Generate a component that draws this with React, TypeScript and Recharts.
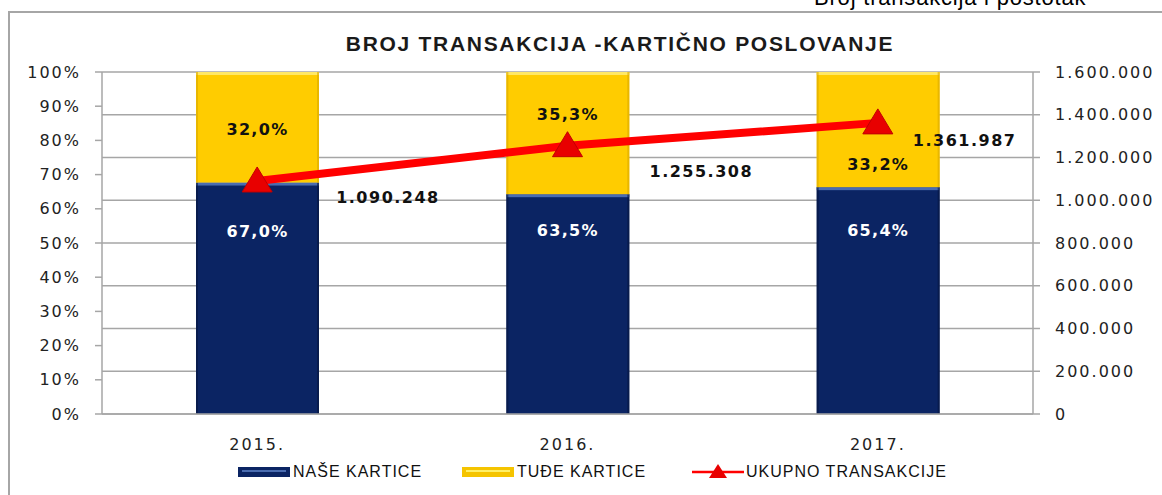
import { ComposedChart, Bar, Line, XAxis, YAxis, CartesianGrid, LabelList } from 'recharts';

const years = ['2015.', '2016.', '2017.'];
const naseKartice = [67.0, 63.5, 65.4];
const tudjeKartice = [32.0, 35.3, 33.2];
const ukupnoTransakcija = [1090248, 1255308, 1361987];
const percentTicks = [0, 0.1, 0.2, 0.3, 0.4, 0.5, 0.6, 0.7, 0.8, 0.9, 1];
const countTicks = [0, 200000, 400000, 600000, 800000, 1000000, 1200000, 1400000, 1600000];

// label nudges (Excel had them placed by hand)
const naseLabelDy = [54, 42, 49];
const tudjeLabelDy = [63, 48, 98];
const ukupnoLabelDx = [79, 82, 35];
const ukupnoLabelDy = [22, 31, 23];

// 100% stacked columns: each column is scaled to its own total, like Excel does
const data = years.map((year, i) => {
  const total = naseKartice[i] + tudjeKartice[i];
  return {
    year,
    nase: naseKartice[i] / total,
    tudje: tudjeKartice[i] / total,
    ukupno: ukupnoTransakcija[i],
  };
});

const NAVY = '#0b2463';
const YELLOW = '#ffcc00';
const RED = '#ff0000';
const GRID = '#a6a6a6';
const axisFont = { fontFamily: 'DejaVu Sans', fontSize: 16, fill: '#222', letterSpacing: 2 };

function fmtPct(v: number) {
  return v.toFixed(1).replace('.', ',') + '%';
}

function fmtThousands(v: number) {
  return String(Math.round(v)).replace(/\B(?=(\d{3})+(?!\d))/g, '.');
}

function BevelBar(props: any) {
  const { x, y, width, height, main, light, dark } = props;
  if (!height || height <= 0) return null;
  return (
    <g>
      <rect x={x} y={y} width={width} height={height} fill={main} />
      <rect x={x} y={y} width={width} height={3} fill={light} />
      <rect x={x} y={y} width={2} height={height} fill={dark} opacity={0.6} />
      <rect x={x + width - 2} y={y} width={2} height={height} fill={dark} opacity={0.6} />
    </g>
  );
}

function Triangle(props: any) {
  const { cx, cy } = props;
  if (cx == null || cy == null) return null;
  return (
    <polygon
      points={`${cx},${cy - 14} ${cx - 15},${cy + 11} ${cx + 15},${cy + 11}`}
      fill="#e80000"
      stroke="#c00000"
      strokeWidth={1}
    />
  );
}

function NaseLabel(props: any) {
  const { x, y, width, index } = props;
  return (
    <text x={x + width / 2} y={y + naseLabelDy[index]} textAnchor="middle" fill="#fff"
      style={{ fontFamily: 'DejaVu Sans', fontSize: 16, fontWeight: 'bold', letterSpacing: 1.3 }}>
      {fmtPct(naseKartice[index])}
    </text>
  );
}

function TudjeLabel(props: any) {
  const { x, y, width, index } = props;
  return (
    <text x={x + width / 2} y={y + tudjeLabelDy[index]} textAnchor="middle" fill="#111"
      style={{ fontFamily: 'DejaVu Sans', fontSize: 16, fontWeight: 'bold', letterSpacing: 1.3 }}>
      {fmtPct(tudjeKartice[index])}
    </text>
  );
}

function UkupnoLabel(props: any) {
  const { x, y, index } = props;
  return (
    <text x={x + ukupnoLabelDx[index]} y={y + ukupnoLabelDy[index]} textAnchor="start" fill="#111"
      style={{ fontFamily: 'DejaVu Sans', fontSize: 16, fontWeight: 'bold', letterSpacing: 1.5 }}>
      {fmtThousands(ukupnoTransakcija[index])}
    </text>
  );
}

function Swatch({ main, light }: { main: string; light: string }) {
  return (
    <span style={{
      display: 'inline-block', width: 52, height: 10, background: main, border: `1px solid ${main}`,
      boxSizing: 'border-box', position: 'relative', marginRight: 3,
    }}>
      <span style={{ position: 'absolute', left: 3, right: 3, top: 2, height: 2, background: light }} />
    </span>
  );
}

const legendText: React.CSSProperties = {
  fontFamily: 'Liberation Sans', fontSize: 16, letterSpacing: 1, color: '#111',
};

export default function App() {
  return (
    <div style={{ position: 'absolute', left: 0, top: 0, width: 1162, height: 495, overflow: 'hidden', background: '#fff' }}>
      <div style={{ position: 'absolute', left: 814, top: -13, fontFamily: 'Liberation Sans', fontSize: 22, letterSpacing: 0.8, lineHeight: '22px', color: '#000', whiteSpace: 'nowrap' }}>
        Broj transakcija i postotak
      </div>
      <div style={{ position: 'absolute', left: 8, top: 11, width: 1160, height: 490, borderTop: `2px solid ${GRID}`, borderLeft: `2px solid ${GRID}` }} />
      <div style={{ position: 'absolute', left: 0, top: 32, width: 1240, textAlign: 'center', fontFamily: 'Liberation Sans', fontWeight: 'bold', fontSize: 21, letterSpacing: 1.7, color: '#1a1a1a', whiteSpace: 'nowrap' }}>
        BROJ TRANSAKCIJA -KARTIČNO POSLOVANJE
      </div>
      <div style={{ position: 'absolute', left: 0, top: 0 }}>
        <ComposedChart width={1162} height={495} data={data}
          margin={{ top: 72, right: 0, bottom: 51, left: 0 }}>
          <CartesianGrid yAxisId="right" vertical={false} stroke={GRID} strokeWidth={1.3} />
          <XAxis dataKey="year" height={30} tickLine={false} tickSize={0} tickMargin={25}
            axisLine={{ stroke: GRID, strokeWidth: 1.5 }}
            tick={axisFont} />
          <YAxis yAxisId="left" width={102} domain={[0, 1]} ticks={percentTicks}
            tickFormatter={(v: number) => `${Math.round(v * 100)}%`}
            tickSize={7} tickMargin={14} interval={0}
            tickLine={{ stroke: GRID, strokeWidth: 1.5 }} axisLine={{ stroke: GRID, strokeWidth: 1.5 }}
            tick={axisFont} />
          <YAxis yAxisId="right" orientation="right" width={129} domain={[0, 1600000]} ticks={countTicks}
            tickFormatter={fmtThousands} tickSize={7} tickMargin={15} interval={0}
            tickLine={{ stroke: GRID, strokeWidth: 1.5 }} axisLine={{ stroke: GRID, strokeWidth: 1.5 }}
            tick={{ ...axisFont, textAnchor: 'start' }} />
          <Bar yAxisId="left" dataKey="nase" stackId="a" barSize={123} fill={NAVY} isAnimationActive={false}
            shape={(p: any) => <BevelBar {...p} main={NAVY} light="#4a6cb0" dark="#061640" />}>
            <LabelList dataKey="nase" content={NaseLabel} />
          </Bar>
          <Bar yAxisId="left" dataKey="tudje" stackId="a" barSize={123} fill={YELLOW} isAnimationActive={false}
            shape={(p: any) => <BevelBar {...p} main={YELLOW} light="#ffe866" dark="#d9a800" />}>
            <LabelList dataKey="tudje" content={TudjeLabel} />
          </Bar>
          <Line yAxisId="right" dataKey="ukupno" stroke={RED} strokeWidth={8} isAnimationActive={false}
            dot={(p: any) => <Triangle key={p.index} {...p} />} activeDot={false}>
            <LabelList dataKey="ukupno" content={UkupnoLabel} />
          </Line>
        </ComposedChart>
      </div>
      <div style={{ position: 'absolute', left: 238, top: 462, display: 'flex', alignItems: 'center', height: 20, whiteSpace: 'nowrap' }}>
        <Swatch main={NAVY} light="#4a6cb0" />
        <span style={{ ...legendText, width: 169, display: 'inline-block' }}>NAŠE KARTICE</span>
        <Swatch main="#f5c400" light="#fff066" />
        <span style={{ ...legendText, width: 175, display: 'inline-block' }}>TUĐE KARTICE</span>
        <svg width={52} height={20} style={{ marginRight: 2 }}>
          <line x1={0} y1={10} x2={52} y2={10} stroke={RED} strokeWidth={2.5} />
          <polygon points="26,2 17,16 35,16" fill="#e80000" />
        </svg>
        <span style={legendText}>UKUPNO TRANSAKCIJE</span>
      </div>
    </div>
  );
}
